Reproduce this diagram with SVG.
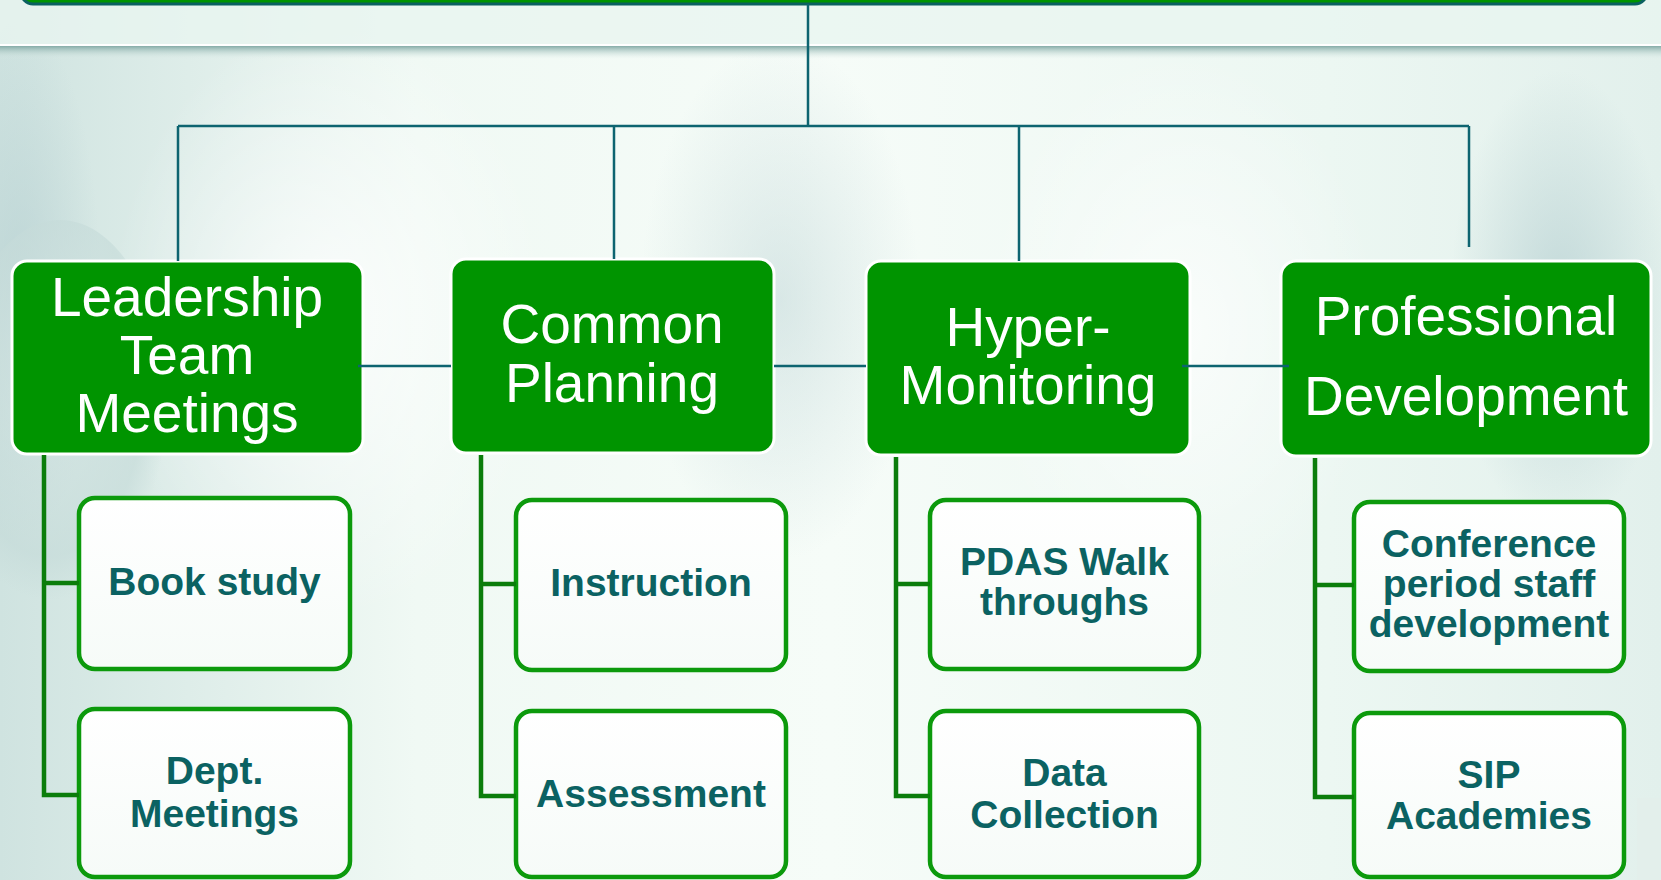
<svg xmlns="http://www.w3.org/2000/svg" width="1661" height="880" viewBox="0 0 1661 880">
<defs>
<linearGradient id="bg" x1="0" y1="0" x2="1" y2="0">
<stop offset="0" stop-color="#cfe3e0"/>
<stop offset="0.25" stop-color="#f0f9f4"/>
<stop offset="0.5" stop-color="#f6fcf8"/>
<stop offset="0.8" stop-color="#ecf7f2"/>
<stop offset="1" stop-color="#e2f0ec"/>
</linearGradient>
<radialGradient id="blob" cx="0.5" cy="0.5" r="0.5">
<stop offset="0" stop-color="#b5cfd1" stop-opacity="0.9"/>
<stop offset="1" stop-color="#b5cfd1" stop-opacity="0"/>
</radialGradient>
<radialGradient id="glow" cx="0.5" cy="0.5" r="0.5">
<stop offset="0" stop-color="#ffffff" stop-opacity="0.95"/>
<stop offset="1" stop-color="#ffffff" stop-opacity="0"/>
</radialGradient>
<radialGradient id="globe" cx="0.45" cy="0.4" r="0.55">
<stop offset="0" stop-color="#d6e6e4"/>
<stop offset="0.8" stop-color="#c4dad8"/>
<stop offset="1" stop-color="#c4dad8" stop-opacity="0"/>
</radialGradient>
<linearGradient id="band" x1="0" y1="0" x2="0" y2="1">
<stop offset="0" stop-color="#86aca8"/>
<stop offset="1" stop-color="#dcece8" stop-opacity="0"/>
</linearGradient>
<linearGradient id="sub" x1="0" y1="0" x2="0" y2="1">
<stop offset="0" stop-color="#ffffff"/>
<stop offset="1" stop-color="#f6fbf8"/>
</linearGradient>
<style>
.main rect{fill:#009400;stroke:#ffffff;stroke-width:3}
.main text{font-family:"Liberation Sans",Arial,sans-serif;font-size:55px;fill:#ffffff;text-anchor:middle}
.sub rect{fill:url(#sub);stroke:#0c9a0c;stroke-width:4.5}
.sub text{font-family:"Liberation Sans",Arial,sans-serif;font-weight:bold;font-size:39px;fill:#0b6262;text-anchor:middle}
.teal{stroke:#0d6470;stroke-width:2.5;fill:none}
.grn{stroke:#0b7d0b;stroke-width:4.5;fill:none}
</style>
</defs>
<g id="background">
<rect x="0" y="0" width="1661" height="880" fill="url(#bg)"/>
<ellipse cx="780" cy="300" rx="140" ry="260" fill="url(#blob)" opacity="0.5"/>
<ellipse cx="1560" cy="300" rx="110" ry="230" fill="url(#blob)" opacity="0.8"/>
<ellipse cx="20" cy="280" rx="80" ry="260" fill="url(#blob)" opacity="0.7"/>
<ellipse cx="330" cy="320" rx="220" ry="300" fill="url(#glow)" opacity="0.8"/>
<ellipse cx="1180" cy="330" rx="200" ry="280" fill="url(#glow)" opacity="0.7"/>
<ellipse cx="60" cy="420" rx="110" ry="200" fill="url(#globe)" opacity="0.6"/>
<rect x="0" y="0" width="1661" height="45" fill="#e8f5f0" opacity="0.8"/>
<rect x="0" y="44" width="1661" height="2" fill="#ffffff"/>
<rect x="0" y="46" width="1661" height="13" fill="url(#band)"/>
<rect x="1637" y="798" width="24" height="82" fill="#e3efeb"/>
</g>
<g id="top-box">
<rect x="21" y="-40" width="1626" height="44" rx="12" fill="#009400" stroke="#0a6060" stroke-width="3"/>
</g>
<g id="node-leadership" class="main">
<rect x="12" y="261" width="351" height="193" rx="15"/>
<text x="187" y="316">Leadership</text>
<text x="187" y="374">Team</text>
<text x="187" y="432">Meetings</text>
</g>
<g id="node-common" class="main">
<rect x="451" y="259" width="323" height="194" rx="15"/>
<text x="612" y="343">Common</text>
<text x="612" y="402">Planning</text>
</g>
<g id="node-hyper" class="main">
<rect x="866" y="261" width="324" height="194" rx="15"/>
<text x="1028" y="346">Hyper-</text>
<text x="1028" y="404">Monitoring</text>
</g>
<g id="node-pd" class="main">
<rect x="1281" y="261" width="370" height="195" rx="15"/>
<text x="1466" y="335">Professional</text>
<text x="1466" y="415">Development</text>
</g>
<g id="node-book" class="sub">
<rect x="79" y="498" width="271" height="171" rx="16"/>
<text x="214.5" y="595">Book study</text>
</g>
<g id="node-dept" class="sub">
<rect x="79" y="709" width="271" height="168" rx="16"/>
<text x="214.5" y="784">Dept.</text>
<text x="214.5" y="827">Meetings</text>
</g>
<g id="node-instruction" class="sub">
<rect x="516" y="500" width="270" height="170" rx="16"/>
<text x="651" y="596">Instruction</text>
</g>
<g id="node-assessment" class="sub">
<rect x="516" y="711" width="270" height="166" rx="16"/>
<text x="651" y="807">Assessment</text>
</g>
<g id="node-pdas" class="sub">
<rect x="930" y="500" width="269" height="169" rx="16"/>
<text x="1064.5" y="575">PDAS Walk</text>
<text x="1064.5" y="615">throughs</text>
</g>
<g id="node-data" class="sub">
<rect x="930" y="711" width="269" height="166" rx="16"/>
<text x="1064.5" y="786">Data</text>
<text x="1064.5" y="828">Collection</text>
</g>
<g id="node-conference" class="sub">
<rect x="1354" y="502" width="270" height="169" rx="16"/>
<text x="1489" y="557">Conference</text>
<text x="1489" y="597">period staff</text>
<text x="1489" y="637">development</text>
</g>
<g id="node-sip" class="sub">
<rect x="1354" y="713" width="270" height="164" rx="16"/>
<text x="1489" y="788">SIP</text>
<text x="1489" y="829">Academies</text>
</g>
<g id="connectors">
<path class="teal" d="M808 4V126M178 126H1469M178 126V261M614 126V259M1019 126V261M1469 126V247"/>
<path class="teal" d="M358 366H451M774 366H866M1182 366H1289" stroke-width="3"/>
<path class="grn" d="M44 455V795H79M44 583H79"/>
<path class="grn" d="M481 455V796H516M481 584H516"/>
<path class="grn" d="M896 457V796H930M896 584H930"/>
<path class="grn" d="M1315 458V797H1354M1315 585H1354"/>
</g>
</svg>
